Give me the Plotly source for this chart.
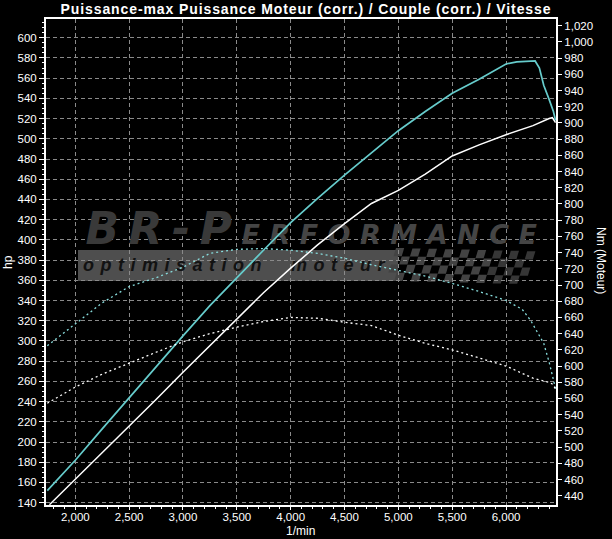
import plotly.graph_objects as go

# ---------------- data ----------------
rpm_pwr_tuned = [1740, 2000, 2250, 2500, 2750, 3000, 3250, 3500, 3750, 4000, 4250, 4500, 4750,
                 5000, 5250, 5500, 5750, 6000, 6100, 6200, 6270, 6310, 6350, 6400, 6440, 6460]
hp_tuned = [152, 182, 213, 244, 274, 305, 335, 363, 390, 417, 441, 464, 486,
            508, 527, 545, 559, 574, 576, 577, 577, 570, 553, 539, 527, 518]

rpm_pwr_stock = [1760, 2000, 2250, 2500, 2750, 3000, 3250, 3500, 3750, 4000, 4250, 4500, 4750,
                 5000, 5250, 5500, 5750, 6000, 6250, 6400, 6430, 6460]
hp_stock = [138, 163, 189, 216, 242, 269, 295, 321, 348, 372, 395, 416, 436,
            449, 465, 483, 494, 504, 513, 520, 521, 516]

rpm_trq_tuned = [1740, 2000, 2250, 2500, 2750, 3000, 3250, 3500, 3750, 4000, 4250, 4500, 4750,
                 5000, 5250, 5500, 5750, 6000, 6150, 6230, 6300, 6350, 6400, 6440, 6460]
nm_tuned = [625, 652, 678, 698, 709, 722, 739, 744, 745, 743, 739, 733, 725,
            718, 711, 702, 692, 681, 670, 656, 640, 628, 605, 583, 572]

rpm_trq_stock = [1740, 2000, 2250, 2500, 2750, 3000, 3250, 3500, 3750, 4000, 4250, 4500, 4750,
                 5000, 5250, 5500, 5750, 6000, 6250, 6400, 6440, 6460]
nm_stock = [554, 574, 590, 604, 617, 630, 640, 648, 655, 660, 659, 654, 650,
            638, 628, 620, 610, 600, 585, 580, 577, 571]

x_ticks = [2000, 2500, 3000, 3500, 4000, 4500, 5000, 5500, 6000]

title_text = "Puissance-max Puissance Moteur (corr.) / Couple (corr.) / Vitesse"

# ---------------- layout geometry ----------------
W, H = 612, 539
L, R, T, B = 46, 56, 19, 34
PW, PH = W - L - R, H - T - B
X_RANGE = [1728, 6464]
Y_HP = [137.7, 618.5]
Y_NM = [428.5, 1028.3]

FONT = "Liberation Sans, Arial, sans-serif"
LOGO_FONT = "DejaVu Sans, Liberation Sans, sans-serif"
CYAN = "#66cccc"
GRID = "#8a8a8a"


def px2x(px):
    return X_RANGE[0] + (px - L) / PW * (X_RANGE[1] - X_RANGE[0])


def py2y(py):
    return Y_HP[1] - (py - T) / PH * (Y_HP[1] - Y_HP[0])


def pxp(px):
    return (px - L) / PW


def pyp(py):
    return 1 - (py - T) / PH


fig = go.Figure()

# --- watermark logo text (drawn first, so under the curves) ---
logo_text = [
    "<b><i><span style='letter-spacing:9.5px'>BR-P</span>"
    "<span style='font-size:27px;letter-spacing:9.5px;fill:#454545'>ERFORMANCE</span></i></b>",
    "<b><i><span style='letter-spacing:6.5px'>optimisation  moteur</span></i></b>",
]
fig.add_trace(go.Scatter(
    x=[px2x(316), px2x(237)], y=[py2y(233), py2y(266)],
    mode="text", text=logo_text,
    textfont=dict(family=[LOGO_FONT, FONT], size=[44, 18], color=["#393939", "#121212"]),
    textposition="middle center", hoverinfo="skip", showlegend=False,
))

# --- curves ---
fig.add_trace(go.Scatter(x=rpm_pwr_tuned, y=hp_tuned, mode="lines",
                         line=dict(color=CYAN, width=1.7), hoverinfo="skip", showlegend=False))
fig.add_trace(go.Scatter(x=rpm_pwr_stock, y=hp_stock, mode="lines",
                         line=dict(color="white", width=1.5), hoverinfo="skip", showlegend=False))
fig.add_trace(go.Scatter(x=rpm_trq_tuned, y=nm_tuned, mode="lines", yaxis="y2",
                         line=dict(color="#88dddd", width=1.3, dash="2px,3px"), hoverinfo="skip",
                         showlegend=False))
fig.add_trace(go.Scatter(x=rpm_trq_stock, y=nm_stock, mode="lines", yaxis="y2",
                         line=dict(color="white", width=1.3, dash="2px,3px"), hoverinfo="skip",
                         showlegend=False))

# --- logo background: grey band + checkered flag (below gridlines) ---
shapes = [dict(type="rect", xref="paper", yref="paper", layer="below",
               x0=pxp(78), x1=pxp(398), y0=pyp(281), y1=pyp(250),
               fillcolor="#4e4e4e", line=dict(width=0))]
sq = 8.2
for col in range(17):
    for row in range(4):
        if (col + row) % 2:
            continue
        x0 = 396 + col * sq - row * 2.5
        y0 = 248 + row * sq + (col * 0.2)
        pts = [(x0, y0), (x0 + sq, y0), (x0 + sq - 2.5, y0 + sq), (x0 - 2.5, y0 + sq)]
        path = "M " + " L ".join(f"{pxp(a):.5f},{pyp(b):.5f}" for a, b in pts) + " Z"
        shade = "#434343" if col < 12 else "#363636"
        shapes.append(dict(type="path", xref="paper", yref="paper", layer="below",
                           path=path, fillcolor=shade, line=dict(width=0)))

axis_common = dict(showline=True, linecolor="white", linewidth=2, zeroline=False,
                   tickcolor="white", tickfont=dict(family=FONT, size=11.5, color="white"))

fig.update_layout(
    width=W, height=H,
    margin=dict(l=L, r=R, t=T, b=B, autoexpand=False),
    paper_bgcolor="black", plot_bgcolor="black",
    title=dict(text="<b><span style='letter-spacing:0.9px'>" + title_text + "</span></b>",
               x=0.5, xanchor="center",
               y=1 - 9.5 / H, yanchor="middle",
               font=dict(family=FONT, size=14, color="white")),
    xaxis=dict(range=X_RANGE, tickvals=x_ticks, tickformat=",", ticks="outside", ticklen=3,
               ticklabelstandoff=-3,
               mirror=True, showgrid=True, gridcolor=GRID, griddash="4px,3px", gridwidth=1,
               minor=dict(dtick=100, tick0=0, ticks="outside", ticklen=2, tickcolor="white",
                          showgrid=False),
               **axis_common),
    yaxis=dict(range=Y_HP, dtick=20, tick0=0, ticks="outside", ticklen=5, tickformat="d",
               showgrid=True, gridcolor=GRID, griddash="4px,3px", gridwidth=1,
               minor=dict(dtick=5, tick0=0, ticks="outside", ticklen=2, tickcolor="white",
                          showgrid=False),
               **axis_common),
    yaxis2=dict(range=Y_NM, dtick=20, tick0=0, overlaying="y", side="right", ticks="outside",
                ticklen=4, tickformat=",", showgrid=False, **axis_common),
    shapes=shapes,
    annotations=[
        dict(text="hp", xref="paper", yref="paper", x=pxp(8), y=pyp(262), showarrow=False,
             textangle=-90, font=dict(family=FONT, size=12, color="white"),
             xanchor="center", yanchor="middle"),
        dict(text="Nm (Moteur)", xref="paper", yref="paper", x=pxp(601), y=pyp(260),
             showarrow=False, textangle=90, font=dict(family=FONT, size=12, color="white"),
             xanchor="center", yanchor="middle"),
        dict(text="1/min", xref="paper", yref="paper", x=pxp(300), y=pyp(531),
             showarrow=False, font=dict(family=FONT, size=12, color="white"),
             xanchor="center", yanchor="middle"),
    ],
)

fig.write_html("out.html", config={"displayModeBar": False},
               post_script="document.body.style.margin='0px';document.body.style.background='black';")
